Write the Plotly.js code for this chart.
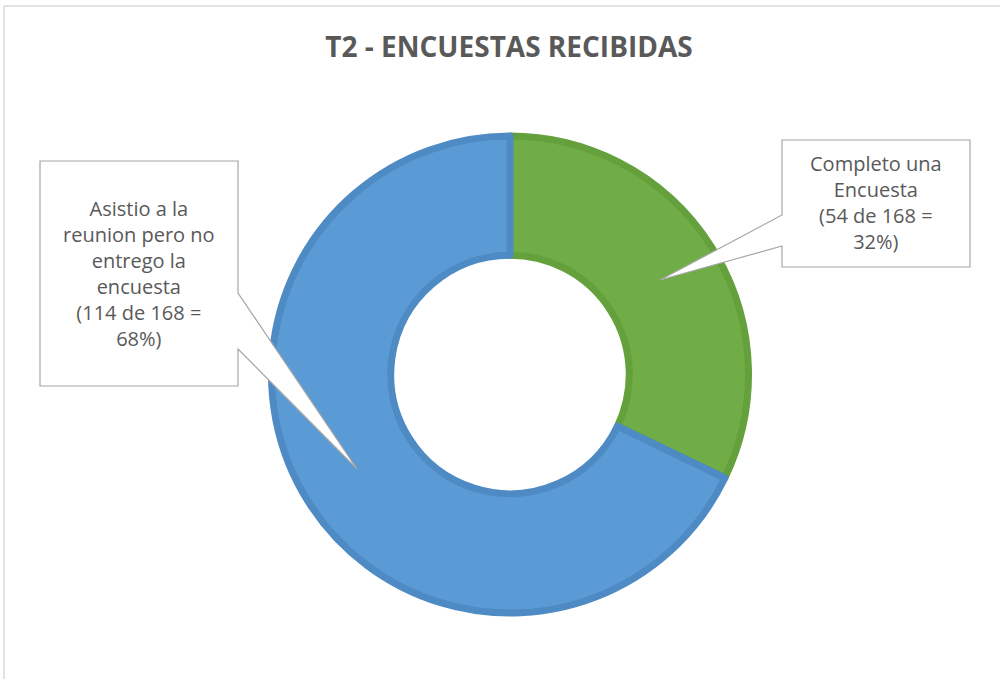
<!DOCTYPE html>
<html>
<head>
<meta charset="utf-8">
<script src="https://cdn.plot.ly/plotly-3.0.1.min.js"></script>
<style>
  html, body { margin: 0; padding: 0; background: #fff; }
  #chart { width: 1000px; height: 679px; }
</style>
</head>
<body>
<div id="chart"></div>
<script>
// data
var labels = ['Completo una Encuesta', 'Asistio a la reunion pero no entrego la encuesta'];
var values = [54, 114];
var total = 168;
var sliceColors = ['#70ad47', '#5b9bd5'];
var edgeColors = ['#64a03b', '#4e8ac4'];
var calloutText = [
  'Completo una<br>Encuesta<br>(54 de 168 =<br>32%)',
  'Asistio a la<br>reunion pero no<br>entrego la<br>encuesta<br>(114 de 168 =<br>68%)'
];

var W = 1000, H = 679;
// pixel -> paper helpers (margins are zero so paper == page)
function px(x) { return x / W; }
function py(y) { return 1 - y / H; }

// callout outline: box with a wedge pointing at the slice
function callout(box, side, w1, w2, tip) {
  var l = box[0], t = box[1], r = box[2], b = box[3];
  var p;
  if (side == 'right') {
    p = 'M' + px(l) + ',' + py(t) + ' L' + px(r) + ',' + py(t) +
        ' L' + px(r) + ',' + py(w1) + ' L' + px(tip[0]) + ',' + py(tip[1]) +
        ' L' + px(r) + ',' + py(w2) + ' L' + px(r) + ',' + py(b) +
        ' L' + px(l) + ',' + py(b) + ' Z';
  } else {
    p = 'M' + px(l) + ',' + py(t) + ' L' + px(r) + ',' + py(t) +
        ' L' + px(r) + ',' + py(b) + ' L' + px(l) + ',' + py(b) +
        ' L' + px(l) + ',' + py(w2) + ' L' + px(tip[0]) + ',' + py(tip[1]) +
        ' L' + px(l) + ',' + py(w1) + ' Z';
  }
  return {
    type: 'path', xref: 'paper', yref: 'paper', path: p,
    fillcolor: '#ffffff', line: { color: '#a6a6a6', width: 1.2 }, layer: 'above'
  };
}

var trace = {
  type: 'pie',
  labels: labels,
  values: values,
  hole: 0.5,
  sort: false,
  direction: 'clockwise',
  rotation: 0,
  textinfo: 'none',
  hoverinfo: 'label+value+percent',
  marker: { colors: sliceColors, line: { color: edgeColors, width: 7 } },
  domain: { x: [px(271), px(749)], y: [py(613), py(136)] },
  showlegend: false
};

var layout = {
  width: W,
  height: H,
  margin: { l: 0, r: 0, t: 0, b: 0 },
  paper_bgcolor: '#ffffff',
  title: {
    text: '<b>T2 - ENCUESTAS RECIBIDAS</b>',
    x: 0.509, xanchor: 'center',
    y: py(47), yanchor: 'middle',
    font: { family: 'Open Sans, sans-serif', size: 28, color: '#595959' }
  },
  shapes: [
    // chart frame
    { type: 'line', xref: 'paper', yref: 'paper', x0: px(4), x1: 1, y0: py(6), y1: py(6),
      line: { color: '#d9d9d9', width: 1.5 } },
    { type: 'line', xref: 'paper', yref: 'paper', x0: px(4), x1: px(4), y0: py(6), y1: 0,
      line: { color: '#d9d9d9', width: 1.5 } },
    callout([782, 140, 970, 267], 'left', 215, 246, [660, 280]),
    callout([40, 161, 238, 386], 'right', 293, 349, [357, 469])
  ],
  annotations: [
    { xref: 'paper', yref: 'paper', x: px(876), y: py(202), xanchor: 'center', yanchor: 'middle',
      text: calloutText[0], showarrow: false, align: 'center',
      font: { family: 'Open Sans, sans-serif', size: 20, color: '#595959' } },
    { xref: 'paper', yref: 'paper', x: px(139), y: py(273), xanchor: 'center', yanchor: 'middle',
      text: calloutText[1], showarrow: false, align: 'center',
      font: { family: 'Open Sans, sans-serif', size: 20, color: '#595959' } }
  ]
};

Plotly.newPlot('chart', [trace], layout, { displayModeBar: false, staticPlot: true });
</script>
</body>
</html>
